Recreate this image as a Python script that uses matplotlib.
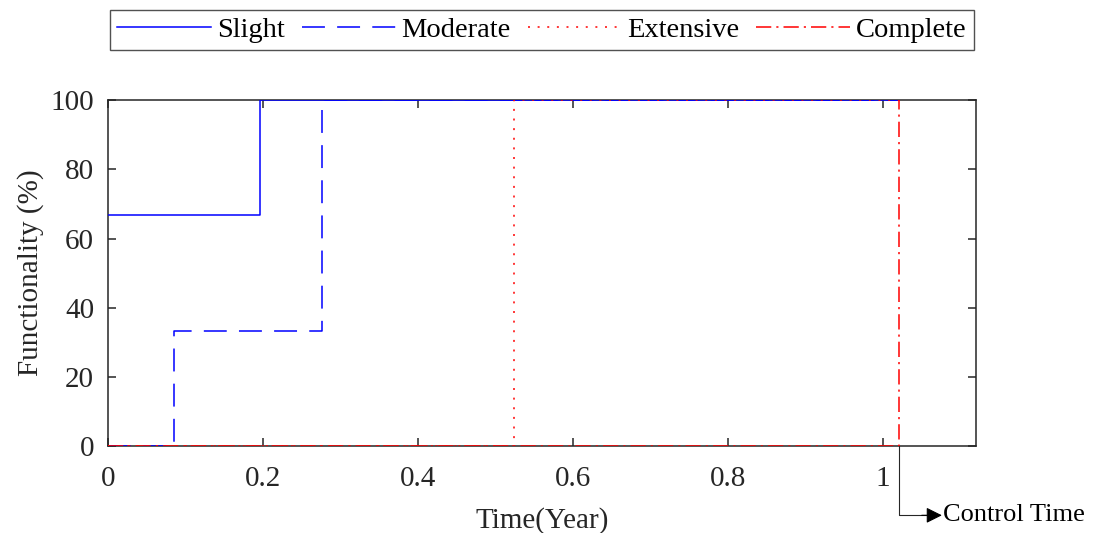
import numpy as np
import matplotlib
matplotlib.use('Agg')
import matplotlib.pyplot as plt
from matplotlib.transforms import blended_transform_factory

plt.rcParams['font.family'] = ['Liberation Serif', 'DejaVu Serif']
plt.rcParams['mathtext.fontset'] = 'stix'

# recovery curves (time in years, functionality in %)
control_time = 1.021

slight_t = [0, 0.196, control_time]
slight_f = [66.67, 100, 100]

moderate_t = [0, 0.085, 0.276, control_time]
moderate_f = [0, 33.33, 100, 100]

extensive_t = [0, 0.524, control_time]
extensive_f = [0, 100, 100]

complete_t = [0, control_time]
complete_f = [0, 100]

labels = ['Slight', 'Moderate', 'Extensive', 'Complete']
xticks = [0, 0.2, 0.4, 0.6, 0.8, 1]
yticks = [0, 20, 40, 60, 80, 100]

fig = plt.figure(figsize=(10.95, 5.33), dpi=100)
ax = fig.add_axes([0.0986, 0.163, 0.7927, 0.649])

lw = 1.1
ax.step(slight_t, slight_f, where='post', color='#0000ff', lw=lw,
        label=labels[0], zorder=3)
ax.step(moderate_t, moderate_f, where='post', color='#0000ff', lw=lw,
        dashes=(15, 8), label=labels[1], zorder=3)
ax.step(extensive_t, extensive_f, where='post', color='#ff0000', lw=lw,
        dashes=(1.3, 5), label=labels[2], zorder=3)
ax.step(complete_t, complete_f, where='post', color='#ff0000', lw=lw,
        dashes=(10, 3.3, 1.4, 3.3), label=labels[3], zorder=3)

ax.set_xlim(0, 1.12)
ax.set_ylim(0, 100)
ax.set_xticks(xticks)
ax.set_xticklabels([str(t) for t in xticks])
ax.set_yticks(yticks)

for s in ax.spines.values():
    s.set_color('#262626')
    s.set_linewidth(1.1)
ax.tick_params(direction='in', length=6, width=1.1, top=True, right=True,
               labelsize=21, colors='#262626')
ax.tick_params(axis='x', pad=14)
ax.tick_params(axis='y', pad=10)

ax.set_xlabel('Time(Year)', fontsize=21, color='#262626', labelpad=11)
ax.set_ylabel('Functionality (%)', fontsize=21, color='#262626', labelpad=5)

# control time marker below the axis
trans = blended_transform_factory(ax.transData, ax.transAxes)
ax.plot([control_time, control_time, 1.06], [0, -0.2, -0.2], color='#262626',
        lw=0.8, transform=trans, clip_on=False)
ax.annotate('', xy=(1.076, -0.2), xytext=(1.05, -0.2), xycoords=trans,
            textcoords=trans,
            arrowprops=dict(arrowstyle='-|>', color='black', lw=0.8,
                            mutation_scale=24, shrinkA=0, shrinkB=0))
ax.text(1.077, -0.2, 'Control Time', transform=trans, va='center', ha='left',
        fontsize=19, color='black')

leg = ax.legend(loc='lower center', bbox_to_anchor=(0.5, 1.145), ncol=4,
                fontsize=20.5, frameon=True, fancybox=False, handlelength=3.3,
                columnspacing=0.6, handletextpad=0.2, borderpad=0.25,
                borderaxespad=0)
leg.get_frame().set_edgecolor('#262626')
leg.get_frame().set_linewidth(1.0)

fig.savefig('out.png', dpi=100)
